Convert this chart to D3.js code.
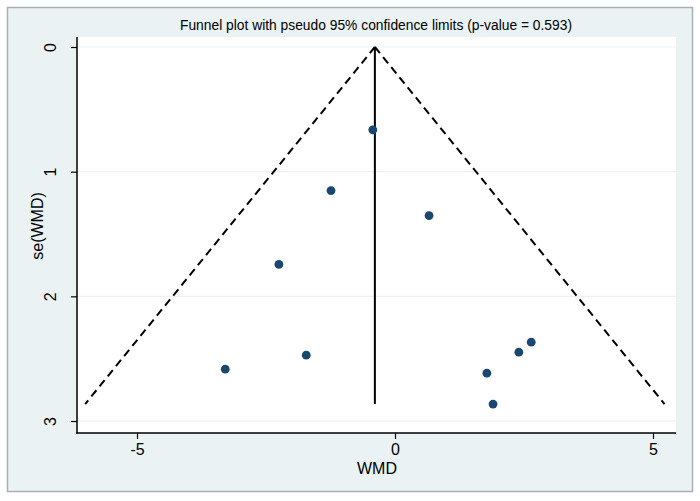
<!DOCTYPE html>
<html>
<head>
<meta charset="utf-8">
<script src="https://cdn.jsdelivr.net/npm/d3@7"></script>
<style>
  body { margin: 0; background: #fff; }
  text { font-family: "Liberation Sans", Arial, sans-serif; }
</style>
</head>
<body>
<div id="chart"></div>
<script>
// study estimates
const wmd = [-0.43, -1.24, 0.66, -2.25, -3.29, -1.72, 2.40, 2.64, 1.78, 1.90];
const se  = [0.664, 1.152, 1.352, 1.744, 2.584, 2.472, 2.448, 2.368, 2.616, 2.864];
const pooled = -0.39;
const xTicks = [-5, 0, 5];
const yTicks = [0, 1, 2, 3];
const titleText = 'Funnel plot with pseudo 95% confidence limits (p-value = 0.593)';

const w = 700;
const h = 501;

const svg = d3.select('#chart')
    .append('svg')
    .attr('width', w)
    .attr('height', h);

// outer graph region
svg.append('rect')
    .attr('x', 7.5).attr('y', 7.5)
    .attr('width', 685).attr('height', 484)
    .attr('fill', '#eaf2f3')
    .attr('stroke', '#a9b0b3')
    .attr('stroke-width', 1.5);

const plot = { left: 77, right: 676, top: 37, bottom: 433 };

svg.append('rect')
    .attr('x', plot.left).attr('y', plot.top)
    .attr('width', plot.right - plot.left)
    .attr('height', plot.bottom - plot.top)
    .attr('fill', '#fff');

const xScale = d3.scaleLinear()
    .domain([-5, 5])
    .range([137, 653]);

const yScale = d3.scaleLinear()
    .domain([0, 3])
    .range([47, 421]);

// grid lines
svg.selectAll('.grid')
    .data(yTicks)
    .enter()
    .append('line')
    .attr('class', 'grid')
    .attr('x1', plot.left)
    .attr('x2', plot.right)
    .attr('y1', d => yScale(d))
    .attr('y2', d => yScale(d))
    .attr('stroke', '#eaf2f3')
    .attr('stroke-width', 1.2);

// pseudo 95% limits
const maxSe = d3.max(se);
const limits = [
    [[pooled, 0], [pooled - 1.96 * maxSe, maxSe]],
    [[pooled, 0], [pooled + 1.96 * maxSe, maxSe]]
];
const line = d3.line().x(d => xScale(d[0])).y(d => yScale(d[1]));

svg.selectAll('.limit')
    .data(limits)
    .enter()
    .append('path')
    .attr('class', 'limit')
    .attr('d', line)
    .attr('fill', 'none')
    .attr('stroke', '#000')
    .attr('stroke-width', 2)
    .attr('stroke-dasharray', '8,5');

svg.append('path')
    .attr('d', line([[pooled, 0], [pooled, maxSe]]))
    .attr('stroke', '#000')
    .attr('stroke-width', 2);

// studies
svg.selectAll('circle')
    .data(wmd)
    .enter()
    .append('circle')
    .attr('cx', d => xScale(d))
    .attr('cy', (d, i) => yScale(se[i]))
    .attr('r', 4.4)
    .attr('fill', '#1a476f');

// axes
const xAxis = d3.axisBottom(xScale)
    .tickValues(xTicks)
    .tickSize(6)
    .tickSizeOuter(0)
    .tickFormat(d3.format('d'));

const gx = svg.append('g')
    .attr('transform', 'translate(0,' + plot.bottom + ')')
    .call(xAxis);
gx.select('.domain').remove();
gx.append('line')
    .attr('x1', plot.left - 1).attr('x2', plot.right)
    .attr('stroke', '#000').attr('stroke-width', 1.5);
gx.selectAll('.tick line').attr('stroke', '#000').attr('stroke-width', 1.2);
gx.selectAll('.tick text')
    .attr('y', 22)
    .attr('dy', null)
    .attr('fill', '#000')
    .style('font-size', '16px')
    .text(d => d < 0 ? '-' + Math.abs(d) : d);

const yAxis = d3.axisLeft(yScale)
    .tickValues(yTicks)
    .tickSize(6)
    .tickSizeOuter(0)
    .tickFormat(d3.format('d'));

const gy = svg.append('g')
    .attr('transform', 'translate(' + plot.left + ',0)')
    .call(yAxis);
gy.select('.domain').remove();
gy.append('line')
    .attr('y1', plot.top).attr('y2', plot.bottom)
    .attr('stroke', '#000').attr('stroke-width', 1.5);
gy.selectAll('.tick line').attr('stroke', '#000').attr('stroke-width', 1.2);
gy.selectAll('.tick text')
    .attr('x', null)
    .attr('dy', null)
    .attr('transform', 'translate(-21,0) rotate(-90)')
    .attr('text-anchor', 'middle')
    .attr('fill', '#000')
    .style('font-size', '16px');

// titles
svg.append('text')
    .attr('x', 376)
    .attr('y', 30)
    .attr('text-anchor', 'middle')
    .attr('textLength', 392)
    .attr('lengthAdjust', 'spacingAndGlyphs')
    .style('font-size', '14px')
    .text(titleText);

svg.append('text')
    .attr('x', 377)
    .attr('y', 474)
    .attr('text-anchor', 'middle')
    .style('font-size', '16px')
    .text('WMD');

svg.append('text')
    .attr('transform', 'translate(43,226) rotate(-90)')
    .attr('text-anchor', 'middle')
    .style('font-size', '16px')
    .text('se(WMD)');
</script>
</body>
</html>
